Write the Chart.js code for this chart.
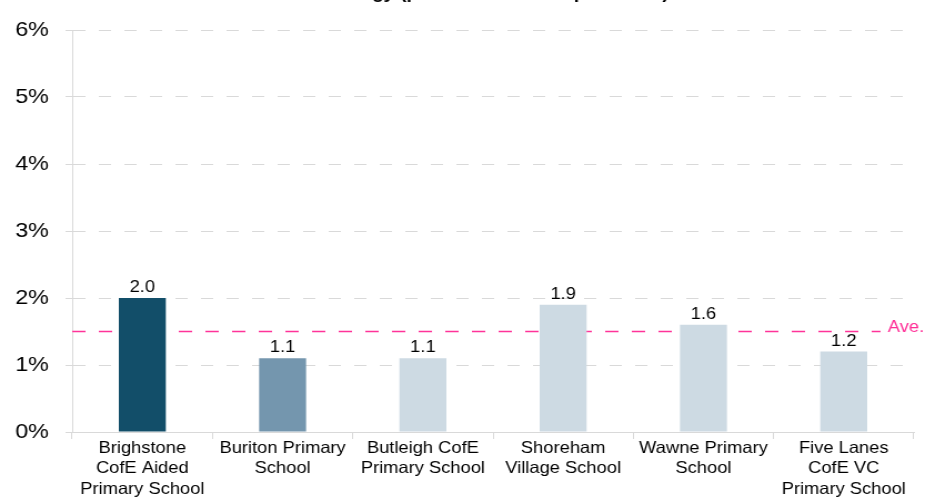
<!DOCTYPE html>
<html>
<head>
<meta charset="utf-8">
<script src="https://cdn.jsdelivr.net/npm/chart.js@4.4.1/dist/chart.umd.min.js"></script>
<style>
  html, body { margin: 0; padding: 0; background: #fff; overflow: hidden; }
  #wrap { width: 833px; height: 499px; transform: scaleX(1.1104); transform-origin: 0 0; }
</style>
</head>
<body>
<div id="wrap"><canvas id="energyChart"></canvas></div>
<script>
const schools = [
  ['Brighstone', 'CofE Aided', 'Primary School'],
  ['Buriton Primary', 'School'],
  ['Butleigh CofE', 'Primary School'],
  ['Shoreham', 'Village School'],
  ['Wawne Primary', 'School'],
  ['Five Lanes', 'CofE VC', 'Primary School']
];
const energyPct = [2.0, 1.1, 1.1, 1.9, 1.6, 1.2];
const averagePct = 1.5;
const yTicks = [0, 1, 2, 3, 4, 5, 6];
const barColors = ['#124e69', '#7496ae', '#cddae3', '#cddae3', '#cddae3', '#cddae3'];

const font = 'Liberation Sans, Arial, sans-serif';

// average line (behind bars) + label
const averageLine = {
  id: 'averageLine',
  beforeDatasetsDraw(chart) {
    const { ctx, chartArea, scales } = chart;
    const y = scales.y.getPixelForValue(averagePct);
    ctx.save();
    ctx.strokeStyle = '#ff3399';
    ctx.lineWidth = 1.5;
    ctx.setLineDash([12, 12]);
    ctx.beginPath();
    ctx.moveTo(chartArea.left, y);
    ctx.lineTo(chartArea.right - 30, y);
    ctx.stroke();
    ctx.restore();
  },
  afterDraw(chart) {
    const { ctx, chartArea, scales } = chart;
    const y = scales.y.getPixelForValue(averagePct);
    ctx.save();
    ctx.fillStyle = '#ff2d96';
    ctx.font = '16.5px ' + font;
    ctx.textAlign = 'left';
    ctx.textBaseline = 'alphabetic';
    ctx.fillText('Ave.', chartArea.right - 23.5, y + 0.5);
    ctx.restore();
  }
};

// values above the bars
const valueLabels = {
  id: 'valueLabels',
  afterDatasetsDraw(chart) {
    const { ctx } = chart;
    const meta = chart.getDatasetMeta(0);
    ctx.save();
    ctx.fillStyle = '#000';
    ctx.font = '16.5px ' + font;
    ctx.textAlign = 'center';
    ctx.textBaseline = 'alphabetic';
    meta.data.forEach((bar, i) => {
      ctx.fillText(energyPct[i].toFixed(1), bar.x, bar.y - 6);
    });
    ctx.restore();
  }
};

// title sits mostly above the top edge, as in the source image
const clippedTitle = {
  id: 'clippedTitle',
  afterDraw(chart) {
    const { ctx } = chart;
    ctx.save();
    ctx.fillStyle = '#000';
    ctx.font = 'bold 17.5px ' + font;
    ctx.textAlign = 'left';
    ctx.textBaseline = 'alphabetic';
    ctx.fillText('Energy (percent of total expenditure)', 296, -2);
    ctx.restore();
  }
};

const ctx = document.getElementById('energyChart').getContext('2d');
new Chart(ctx, {
  type: 'bar',
  data: {
    labels: schools,
    datasets: [{
      data: energyPct,
      backgroundColor: barColors,
      borderWidth: 0,
      categoryPercentage: 1,
      barPercentage: 0.335
    }]
  },
  options: {
    responsive: true,
    maintainAspectRatio: false,
    animation: false,
    layout: { padding: { top: 30, right: 10, left: 0, bottom: 0 } },
    plugins: {
      legend: { display: false },
      tooltip: { enabled: false }
    },
    scales: {
      x: {
        grid: {
          offset: true,
          drawOnChartArea: false,
          color: '#d9d9d9',
          tickLength: 7
        },
        border: { color: '#d9d9d9' },
        ticks: {
          color: '#000',
          font: { family: font, size: 16.5, lineHeight: 1.25 },
          maxRotation: 0,
          autoSkip: false,
          padding: -1
        },
        afterFit(scale) { scale.height = 67; }
      },
      y: {
        min: 0,
        max: 6,
        afterBuildTicks(scale) { scale.ticks = yTicks.map(v => ({ value: v })); },
        grid: {
          color: '#d9d9d9',
          tickLength: 6,
          tickColor: '#d9d9d9'
        },
        // in v4 border.dash sets the grid line dashes
        border: { color: '#d9d9d9', dash: [11, 12] },
        ticks: {
          color: '#000',
          font: { family: font, size: 21 },
          padding: 15,
          callback: v => v + '%'
        },
        afterFit(scale) { scale.width = 65; }
      }
    }
  },
  plugins: [averageLine, valueLabels, clippedTitle]
});
</script>
</body>
</html>
